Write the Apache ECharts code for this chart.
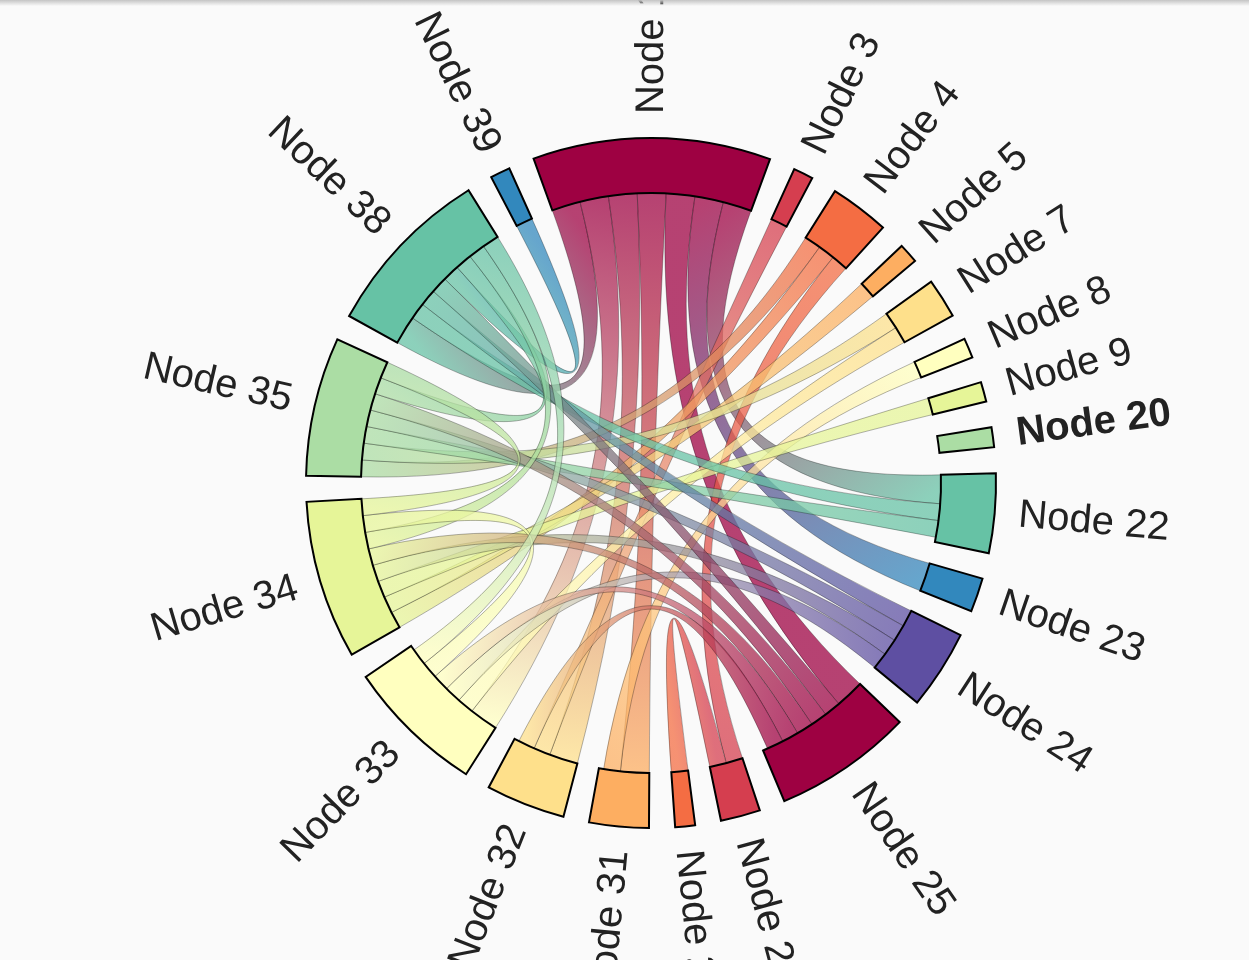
<!DOCTYPE html>
<html><head><meta charset="utf-8">
<script src="https://cdn.jsdelivr.net/npm/echarts@6/dist/echarts.min.js"></script>
<style>
html,body{margin:0;padding:0;background:#fafafa;overflow:hidden}
#chart{width:1249px;height:960px}
#topbar{position:absolute;left:0;top:0;width:100%;height:6px;background:linear-gradient(#c4c4c4,rgba(250,250,250,0));z-index:5}
</style>
</head><body><div id="chart"></div><div id="topbar"></div>
<script>
const nodeNames = ['Node 1','Node 3','Node 4','Node 5','Node 7','Node 8','Node 9','Node 20','Node 22','Node 23','Node 24','Node 25','Node 26','Node 28','Node 31','Node 32','Node 33','Node 34','Node 35','Node 38','Node 39'];
const nodeValues = [12,1,3,1,2,1,1,1,4,1,4,7,2,1,3,4,7,8,7,8,1];
const linkSources = ['Node 1','Node 1','Node 1','Node 1','Node 1','Node 1','Node 1','Node 3','Node 4','Node 4','Node 4','Node 5','Node 7','Node 7','Node 8','Node 9','Node 22','Node 22','Node 24','Node 24','Node 24','Node 24','Node 25','Node 25','Node 25','Node 25','Node 25','Node 26','Node 38','Node 38','Node 38','Node 33','Node 34','Node 33'];
const linkTargets = ['Node 38','Node 33','Node 32','Node 31','Node 25','Node 23','Node 22','Node 32','Node 35','Node 34','Node 26','Node 34','Node 35','Node 33','Node 31','Node 34','Node 38','Node 35','Node 38','Node 35','Node 34','Node 33','Node 38','Node 35','Node 34','Node 33','Node 32','Node 28','Node 39','Node 35','Node 34','Node 34','Node 35','Node 38'];
const linkValues = [1.714,1.714,1.714,1.714,1.714,1.714,1.714,1,1,1,1,1,1,1,1,1,1,1,1,1,1,1,1,1,1,1,1,1,1,1,1,1,1,1];
const palette = ['#9e0142','#d53e4f','#f46d43','#fdae61','#fee08b','#ffffbf','#e6f598','#abdda4','#66c2a5','#3288bd','#5e4fa2'];
const boldLabels = ['Node 20'];

const CENTER = [651, 483];
const RADIUS = [290, 345];
const START = 109.9;
const PAD = 4.35;

const nodes = nodeNames.map((n, i) => ({ name: n, value: nodeValues[i] }));
const links = linkSources.map((s, i) => ({ source: s, target: linkTargets[i], value: linkValues[i] }));

// effective node sizes (chord layout rule: max of own value and link sum)
const edgeSum = nodeNames.map(n => {
  let s = 0;
  links.forEach(l => { if (l.source === n) s += l.value; if (l.target === n) s += l.value; });
  return s;
});
const eff = nodeValues.map((v, i) => Math.max(v, edgeSum[i]));
const total = eff.reduce((a, b) => a + b, 0);
const unit = (360 - PAD * nodeNames.length) / total;
const padUnits = PAD / unit;

const chart = echarts.init(document.getElementById('chart'));
chart.setOption({
  backgroundColor: '#fafafa',
  color: palette,
  animation: false,
  series: [
    {
      type: 'chord',
      center: CENTER,
      radius: RADIUS,
      startAngle: START,
      padAngle: PAD,
      clockwise: true,
      minAngle: 0,
      itemStyle: { borderColor: '#000', borderWidth: 2, borderRadius: 0 },
      lineStyle: { color: 'gradient', opacity: 0.74, width: 0.4 },
      label: { show: false },
      emphasis: { disabled: true },
      data: nodes,
      links: links
    },
    {
      type: 'pie',
      silent: true,
      center: CENTER,
      radius: RADIUS,
      startAngle: START + PAD / 2,
      clockwise: true,
      padAngle: 0,
      minAngle: 0,
      avoidLabelOverlap: false,
      itemStyle: { color: 'rgba(0,0,0,0)' },
      label: {
        show: true, position: 'outside', rotate: 'radial',
        fontFamily: 'Liberation Sans, Arial, sans-serif', fontSize: 40, color: '#222',
        distanceToLabelLine: 0
      },
      labelLine: { show: false, length: 24, length2: 0 },
      emphasis: { disabled: true },
      data: nodeNames.map((n, i) => ({
        name: n,
        value: eff[i] + padUnits,
        label: boldLabels.includes(n) ? { fontWeight: 'bold' } : undefined
      }))
    }
  ]
});
</script>
</body></html>
